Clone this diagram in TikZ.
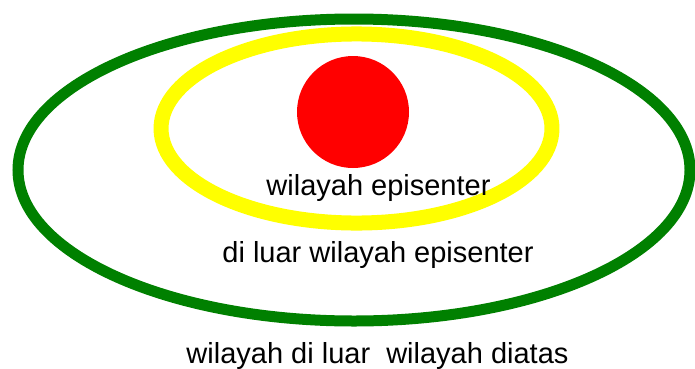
\documentclass[tikz,border=0pt]{standalone}
\usepackage{fontspec}
\setmainfont{Liberation Sans}
\usetikzlibrary{positioning}
\definecolor{zonegreen}{RGB}{0,128,0}
\definecolor{zoneyellow}{RGB}{255,255,0}
\definecolor{zonered}{RGB}{255,0,0}

\begin{document}
\begin{tikzpicture}[x=0.75pt, y=-0.75pt,
    zonetext/.style={anchor=base, inner sep=0pt, font=\fontsize{21.75pt}{26pt}\selectfont}]
    \useasboundingbox (0,0) rectangle (695,368);
    % Outer zone
    \draw[zonegreen, line width=8.25pt] (354,170) ellipse [x radius=252pt, y radius=113.25pt];
    % Middle zone
    \draw[zoneyellow, line width=11.25pt] (356.5,128.5) ellipse [x radius=146.6pt, y radius=70.9pt];
    % Epicentre
    \fill[zonered] (353,112) circle [radius=42pt];
    % Labels
    \node[zonetext] (episenter) at (378.5,195) {wilayah episenter};
    \node[zonetext] (luar) at (378,262) {di luar wilayah episenter};
    \node[zonetext] (diatas) at (377.5,363) {wilayah di luar\ \ wilayah diatas};
\end{tikzpicture}
\end{document}
